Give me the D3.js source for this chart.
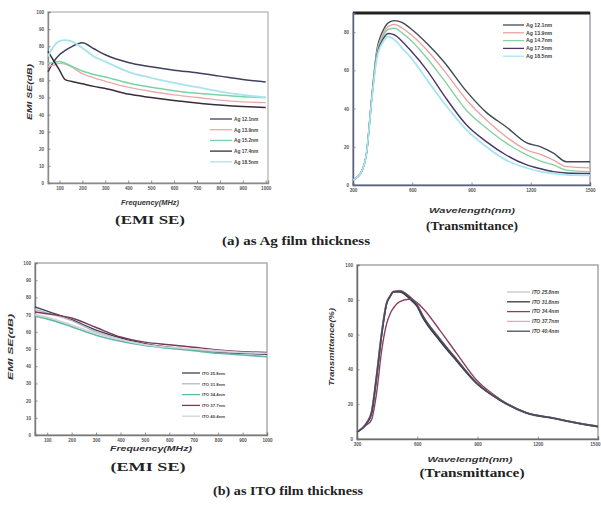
<!DOCTYPE html>
<html><head><meta charset="utf-8">
<script src="https://cdn.jsdelivr.net/npm/d3@7"></script>
<style>
html,body{margin:0;padding:0;background:#fff;}
svg{display:block;}
</style></head>
<body>
<script>
// ---------------- DATA ----------------
// (a) EMI SE vs frequency, Ag films
const agFreq = [50, 75, 100, 125, 150, 200, 250, 300, 400, 500, 600, 700, 800, 900, 1000];
const agSeNames = ["Ag 12.1nm", "Ag 13.9nm", "Ag 15.2nm", "Ag 17.4nm", "Ag 18.5nm"];
const agSe121 = [65, 71, 75, 77.5, 79.5, 82, 78.5, 75, 70.5, 68, 66, 64.5, 62.5, 60.5, 59];
const agSe139 = [68, 69, 70, 69.5, 68, 64, 61.5, 59.5, 56, 53.5, 51.5, 50, 48.5, 47.5, 47];
const agSe152 = [70, 70.5, 71, 70, 68.5, 65.5, 63.5, 62, 58.5, 56, 54, 52.5, 51.5, 50.5, 50];
const agSe174 = [77, 71.5, 66, 60.5, 59.5, 58, 56.5, 55.3, 52, 50, 48.2, 46.8, 45.6, 44.7, 44.2];
const agSe185 = [74, 80, 83, 83.5, 83, 79, 74, 71, 65, 61.5, 58.5, 56, 53.5, 51.5, 50];

// (a) Transmittance vs wavelength, Ag films
const agWave = [300, 343, 369, 394, 420, 453, 480, 510, 550, 590, 675, 760, 875, 975, 1075, 1180, 1250, 1315, 1380, 1500];
const agTNames = ["Ag 12.1nm", "Ag 13.9nm", "Ag 14.7nm", "Ag 17.5nm", "Ag 18.5nm"];
const agT121 = [2.6, 7, 17, 45, 70, 81, 85, 86, 85, 82, 74, 64.5, 49, 38, 30.5, 22, 20, 16.7, 12.2, 12.2];
const agT139 = [2.6, 7, 17, 45, 69, 79, 83, 84, 82, 79, 70.5, 60, 44.5, 34, 25.3, 18.3, 16, 13, 9.6, 9];
const agT147 = [2.6, 7, 17, 44.5, 68, 78, 81.5, 82, 79.5, 76, 66.3, 55, 39, 29.8, 22, 15.7, 12.5, 10.5, 7.8, 7];
const agT175 = [2.6, 7, 17, 44, 67, 76.5, 79.3, 78.5, 75, 70.6, 60, 47, 31.4, 22.7, 15.7, 10.5, 8.5, 7, 6.3, 6];
const agT185 = [2.6, 7, 17, 43.5, 66, 75, 77.6, 76, 71.5, 67, 55, 43, 28.8, 20, 13, 8.9, 7, 6, 5.3, 5];

// (b) EMI SE vs frequency, ITO films
const itoFreq = [50, 100, 200, 300, 400, 500, 600, 700, 800, 900, 1000];
const itoNames = ["ITO 25.8nm", "ITO 31.8nm", "ITO 34.4nm", "ITO 37.7nm", "ITO 40.4nm"];
const itoSe258 = [74.5, 72, 67, 61, 56.5, 53, 51, 49.5, 48, 47.5, 47];
const itoSe318 = [73, 71, 66.5, 60, 55.5, 52.5, 50.5, 49.5, 48.5, 48, 47.5];
const itoSe344 = [69, 67.5, 63, 58, 54.5, 52, 50.5, 49, 47.5, 46.5, 45.5];
const itoSe377 = [71.5, 70.5, 68, 62.5, 57, 54, 52.5, 51, 49.5, 48.5, 48];
const itoSe404 = [70, 68.5, 64, 59, 55.5, 52.5, 51, 50, 49, 48, 47.5];

// (b) Transmittance vs wavelength, ITO films
const itoWave = [300, 347, 372, 397, 423, 447, 465, 480, 513, 563, 597, 629, 712, 795, 895, 1011, 1144, 1277, 1400, 1500];
const itoT258 = [4.2, 9, 15, 36, 61, 78, 82, 84.7, 85, 81, 77, 70, 57, 45.4, 32, 22.4, 14.8, 11.9, 9, 7];
const itoT318 = [4, 8.8, 14.5, 35, 60, 77.5, 82, 84.5, 84.5, 80.5, 76.5, 69.5, 56.5, 45, 32, 22.4, 15, 12, 9.2, 7.2];
const itoT344 = [4, 8, 11, 26, 51, 66, 72, 75, 79, 80.3, 78.5, 75, 62.6, 49.4, 33.9, 23, 15, 12, 9, 7];
const itoT377 = [4.5, 9.5, 16, 37, 62, 78.5, 82.5, 85, 85.5, 82, 78, 71, 58, 46, 32.5, 22.8, 15.2, 12.2, 9.3, 7.5];
const itoT404 = [4.2, 9, 15, 35.5, 60.5, 77.8, 82, 84.5, 85, 81.5, 77.5, 70.5, 57.5, 45.8, 32.3, 22.6, 15, 12, 9.1, 7.3];

// tick labels
const freqTicks = [100, 200, 300, 400, 500, 600, 700, 800, 900, 1000];
const seTicks = [0, 10, 20, 30, 40, 50, 60, 70, 80, 90, 100];
const waveTicks = [300, 600, 900, 1200, 1500];
const agTTicks = [0, 20, 40, 60, 80];
const itoTTicks = [0, 20, 40, 60, 80, 100];

// ---------------- DRAW ----------------
const W = 601, H = 512;
const svg = d3.select("body").append("svg").attr("width", W).attr("height", H);

const tickFont = "Liberation Sans, Arial, sans-serif";
const serif = "Liberation Serif, Times New Roman, serif";

function panel(o) {
  const g = svg.append("g");
  const x = d3.scaleLinear().domain(o.xDomain).range([o.l, o.r]);
  const y = d3.scaleLinear().domain(o.yDomain).range([o.b, o.t]);

  g.append("rect").attr("x", o.l).attr("y", o.t).attr("width", o.r - o.l).attr("height", o.b - o.t)
    .attr("fill", "none").attr("stroke", o.frame).attr("stroke-width", 1.4);
  if (o.topBar) {
    g.append("line").attr("x1", o.l).attr("x2", o.r).attr("y1", o.t).attr("y2", o.t)
      .attr("stroke", "#222").attr("stroke-width", 3);
  }

  const ax = g.append("g").attr("transform", `translate(0,${o.b})`)
    .call(d3.axisBottom(x).tickValues(o.xTicks).tickSize(-2.5).tickPadding(4).tickFormat(d3.format("d")));
  const ay = g.append("g").attr("transform", `translate(${o.l},0)`)
    .call(d3.axisLeft(y).tickValues(o.yTicks).tickSize(-2.5).tickPadding(4).tickFormat(d3.format("d")));
  [ax, ay].forEach(a => {
    a.select(".domain").attr("stroke", o.axisCol).attr("stroke-width", 1.4);
    a.selectAll(".tick line").attr("stroke", "#777").attr("stroke-width", 0.8);
    a.selectAll(".tick text").attr("font-family", tickFont).attr("font-size", 4.6)
      .attr("font-weight", "bold").attr("fill", "#555");
  });
  if (o.lastEnd) {
    ax.selectAll(".tick").filter((d, i, n) => i === n.length - 1).select("text")
      .attr("text-anchor", "end").attr("dx", 2);
  }

  const line = d3.line().x(d => x(d[0])).y(d => y(d[1])).curve(d3.curveMonotoneX);
  o.series.forEach((s, i) => {
    g.append("path").datum(o.xs.map((xv, k) => [xv, s[k]]))
      .attr("fill", "none").attr("stroke", o.colors[i]).attr("stroke-width", o.lw[i])
      .attr("stroke-linejoin", "round").attr("d", line);
  });

  o.names.forEach((n, i) => {
    const ly = o.leg.y + i * o.leg.dy;
    g.append("line").attr("x1", o.leg.x).attr("x2", o.leg.x + o.leg.len).attr("y1", ly).attr("y2", ly)
      .attr("stroke", o.colors[i]).attr("stroke-width", 1.3);
    g.append("text").attr("x", o.leg.x + o.leg.len + 2).attr("y", ly + 1.8)
      .attr("font-family", tickFont).attr("font-size", o.leg.fs).attr("font-weight", "bold")
      .attr("font-style", o.leg.italic ? "italic" : "normal").attr("fill", "#444").text(n);
  });

  g.append("text").attr("x", o.xt.x).attr("y", o.xt.y).attr("text-anchor", "middle")
    .attr("font-family", tickFont).attr("font-size", 7).attr("font-weight", "bold").attr("font-style", "italic")
    .attr("fill", "#333").attr("textLength", o.xt.len).attr("lengthAdjust", "spacingAndGlyphs").text(o.xt.t);
  if (o.yt) {
    g.append("text").attr("transform", `translate(${o.yt.x},${o.yt.y}) rotate(-90)`).attr("text-anchor", "middle")
      .attr("font-family", tickFont).attr("font-size", 7.5).attr("font-weight", "bold").attr("font-style", "italic")
      .attr("fill", "#333").attr("textLength", o.yt.len).attr("lengthAdjust", "spacingAndGlyphs").text(o.yt.t);
  }
  g.append("text").attr("x", o.cap.x).attr("y", o.cap.y).attr("text-anchor", "middle")
    .attr("font-family", serif).attr("font-size", 13).attr("font-weight", "bold").attr("fill", "#222")
    .attr("textLength", o.cap.len).attr("lengthAdjust", "spacingAndGlyphs").text(o.cap.t);
}

// (a) EMI SE
panel({
  l: 48, r: 268, t: 12, b: 183,
  xDomain: [50, 1010], yDomain: [0, 100], xTicks: freqTicks, yTicks: seTicks,
  frame: "#bdbdbd", axisCol: "#8a8a8a",
  xs: agFreq, series: [agSe121, agSe139, agSe152, agSe174, agSe185], names: agSeNames,
  colors: ["#3d4160", "#eea8a8", "#74d6a8", "#3a2c3c", "#a8e4ec"], lw: [1.5, 1.3, 1.5, 1.5, 1.8],
  leg: { x: 210, y: 119, dy: 10.7, len: 22, fs: 4.8, italic: false },
  xt: { x: 150, y: 205, t: "Frequency(MHz)", len: 58 },
  yt: { x: 32, y: 92, t: "EMI SE(dB)", len: 56 },
  cap: { x: 150, y: 224, t: "(EMI SE)", len: 70 }
});

// (a) Transmittance
panel({
  l: 353, r: 590, t: 13, b: 185,
  xDomain: [300, 1500], yDomain: [0, 90], xTicks: waveTicks, yTicks: agTTicks,
  frame: "#9a9aa8", axisCol: "#55607a", topBar: true,
  xs: agWave, series: [agT121, agT139, agT147, agT175, agT185], names: agTNames,
  colors: ["#3f4a52", "#e9a0a0", "#86d2a4", "#4b3566", "#a6e6ee"], lw: [1.4, 1.3, 1.4, 1.4, 1.8],
  leg: { x: 503, y: 25, dy: 7.8, len: 21, fs: 5.2, italic: false },
  xt: { x: 472, y: 213, t: "Wavelength(nm)", len: 86 },
  cap: { x: 472, y: 230, t: "(Transmittance)", len: 92 }
});

// (b) EMI SE
panel({
  l: 35, r: 267, t: 263, b: 435,
  xDomain: [50, 1000], yDomain: [0, 100], xTicks: freqTicks, yTicks: seTicks,
  frame: "#a8a8a8", axisCol: "#7a7a7a",
  xs: itoFreq, series: [itoSe258, itoSe318, itoSe344, itoSe377, itoSe404], names: itoNames,
  colors: ["#3d3e5c", "#b8b8c0", "#5fb8a2", "#7a3858", "#cfd4dc"], lw: [1.5, 1.5, 1.6, 1.4, 1.6],
  leg: { x: 182, y: 373, dy: 10.8, len: 18, fs: 4.3, italic: false },
  xt: { x: 151, y: 451, t: "Frequency(MHz)", len: 82 },
  yt: { x: 13, y: 347, t: "EMI SE(dB)", len: 66 },
  cap: { x: 148, y: 471, t: "(EMI SE)", len: 75 }
});

// (b) Transmittance
panel({
  l: 357, r: 598, t: 265, b: 439,
  xDomain: [300, 1500], yDomain: [0, 100], xTicks: waveTicks, yTicks: itoTTicks, lastEnd: true,
  frame: "#a0a0a0", axisCol: "#6a6a6a",
  xs: itoWave, series: [itoT258, itoT318, itoT344, itoT377, itoT404], names: itoNames,
  colors: ["#c8c8c8", "#34343e", "#8a4060", "#e4a6c0", "#4a4c5e"], lw: [2, 1.5, 1.4, 1.2, 1.8],
  leg: { x: 507, y: 292, dy: 9.8, len: 23, fs: 5, italic: true },
  xt: { x: 470, y: 462, t: "Wavelength(nm)", len: 85 },
  yt: { x: 334, y: 347, t: "Transmittance(%)", len: 78 },
  cap: { x: 472, y: 477, t: "(Transmittance)", len: 105 }
});

svg.append("text").attr("x", 296).attr("y", 245).attr("text-anchor", "middle")
  .attr("font-family", serif).attr("font-size", 12.5).attr("font-weight", "bold").attr("fill", "#222")
  .attr("textLength", 148).attr("lengthAdjust", "spacingAndGlyphs").text("(a) as Ag film thickness");
svg.append("text").attr("x", 288).attr("y", 495).attr("text-anchor", "middle")
  .attr("font-family", serif).attr("font-size", 12.5).attr("font-weight", "bold").attr("fill", "#222")
  .attr("textLength", 150).attr("lengthAdjust", "spacingAndGlyphs").text("(b) as ITO film thickness");
</script>
</body></html>
